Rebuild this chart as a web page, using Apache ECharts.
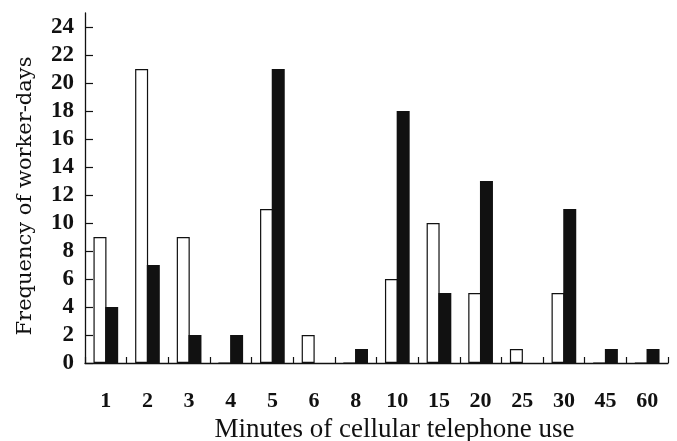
<!DOCTYPE html>
<html>
<head>
<meta charset="utf-8">
<script src="https://cdn.jsdelivr.net/npm/echarts@6/dist/echarts.min.js"></script>
<style>html,body{margin:0;padding:0;background:#fff;}#c{width:677px;height:441px;}</style>
</head>
<body>
<div id="c"></div>
<script>
const categories = ['1','2','3','4','5','6','8','10','15','20','25','30','45','60'];
const whiteSeries = [9, 21, 9, 0, 11, 2, 0, 6, 10, 5, 1, 5, 0, 0];
const blackSeries = [4, 7, 2, 2, 21, 0, 1, 18, 5, 13, 0, 11, 1, 1];
const yTicks = [0, 2, 4, 6, 8, 10, 12, 14, 16, 18, 20, 22, 24];

const chart = echarts.init(document.getElementById('c'), null, {renderer: 'canvas'});
chart.setOption({
  animation: false,
  backgroundColor: '#fff',
  grid: {left: 85, right: 9, top: 13, bottom: 78, containLabel: false, outerBoundsMode: 'none'},
  xAxis: {
    type: 'category',
    data: categories,
    boundaryGap: true,
    axisLine: {show: true, lineStyle: {color: '#111', width: 1.3}},
    axisTick: {show: true, inside: true, length: 6, lineStyle: {color: '#111', width: 1.2}},
    axisLabel: {color: '#111', fontFamily: 'Liberation Serif', fontWeight: 'bold', fontSize: 22, margin: 27},
    name: 'Minutes of cellular telephone use',
    nameLocation: 'middle',
    nameGap: 50,
    nameTextStyle: {color: '#111', fontFamily: 'Liberation Serif', fontSize: 27, padding: [0, 0, 0, 36]}
  },
  yAxis: {
    type: 'value',
    min: 0,
    max: 25,
    interval: 2,
    splitLine: {show: false},
    axisLine: {show: true, lineStyle: {color: '#111', width: 1.3}},
    axisTick: {show: true, inside: true, length: 8, customValues: yTicks, lineStyle: {color: '#111', width: 1.2}},
    axisLabel: {color: '#111', fontFamily: 'Liberation Serif', fontWeight: 'bold', fontSize: 23, margin: 11, customValues: yTicks},
    name: 'Frequency of worker-days',
    nameLocation: 'middle',
    nameGap: 49,
    nameTextStyle: {color: '#111', fontFamily: 'DejaVu Serif', fontSize: 21, padding: [0, 16, 0, 0]}
  },
  series: [
    {
      type: 'bar',
      data: whiteSeries,
      barWidth: 13,
      barGap: '-10%',
      itemStyle: {color: '#fff', borderColor: '#111', borderWidth: 1.2}
    },
    {
      type: 'bar',
      data: blackSeries,
      barWidth: 13,
      itemStyle: {color: '#111', borderColor: '#111', borderWidth: 0}
    }
  ]
});
</script>
</body>
</html>
